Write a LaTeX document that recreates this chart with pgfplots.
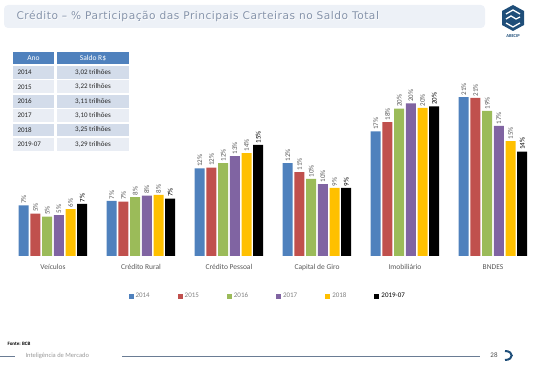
\documentclass[border=0pt]{standalone}
\usepackage{pgfplots}
\pgfplotsset{compat=1.18}
\usepackage{fontspec}
\setmainfont{Carlito}
\newfontfamily\titlefont[LetterSpace=5]{DejaVu Sans}
\definecolor{c14}{HTML}{4F81BD}
\definecolor{c15}{HTML}{C0504D}
\definecolor{c16}{HTML}{9BBB59}
\definecolor{c17}{HTML}{8064A2}
\definecolor{c18}{HTML}{FFC000}
\definecolor{c19}{HTML}{000000}
\definecolor{titlebg}{HTML}{EDF1F7}
\definecolor{titlefg}{HTML}{8593AA}
\definecolor{hdr}{HTML}{4F81BD}
\definecolor{rowa}{HTML}{D3DCEA}
\definecolor{rowb}{HTML}{E9EDF4}
\definecolor{logo}{HTML}{1F4E79}
\definecolor{lbl}{HTML}{595959}
\definecolor{foot}{HTML}{6A7C94}
\begin{document}
\begin{tikzpicture}
\useasboundingbox (0pt,0pt) rectangle (544pt,369pt);
% title bar
\fill[titlebg, rounded corners=4pt] (4pt,341pt) rectangle (485pt,364pt);
\node[anchor=west, text=white, font=\titlefont\fontsize{10.6}{12}\selectfont] at (13.6pt,351.9pt) {Crédito – \% Participação das Principais Carteiras no Saldo Total};
\node[anchor=west, text=titlefg, font=\titlefont\fontsize{10.6}{12}\selectfont] at (13pt,352.5pt) {Crédito – \% Participação das Principais Carteiras no Saldo Total};
% logo
\begin{scope}[shift={(513pt,351pt)}]
\fill[logo] (0pt,13pt) -- (11pt,7pt) -- (11pt,-7pt) -- (0pt,-13pt) -- (-11pt,-7pt) -- (-11pt,7pt) -- cycle;
\draw[white, line width=1.3pt] (-7pt,4pt) -- (0pt,8pt) -- (7pt,4pt);
\draw[white, line width=1.3pt] (-7pt,-1pt) -- (-2pt,2pt) -- (3pt,-1pt) -- (7pt,1pt);
\draw[white, line width=1.3pt] (-7pt,-5pt) -- (0pt,-9pt) -- (7pt,-5pt);
\node[text=logo, font=\fontsize{4.5}{5}\selectfont\bfseries] at (0pt,-18pt) {ABECIP};
\end{scope}
% table
\fill[hdr] (13pt,305pt) rectangle (54pt,317pt);
\fill[hdr] (57pt,305pt) rectangle (129pt,317pt);
\node[text=white, font=\fontsize{7.5}{9}\selectfont] at (33.5pt,311pt) {Ano};
\node[text=white, font=\fontsize{7.5}{9}\selectfont] at (93pt,311pt) {Saldo R\$};
\foreach \i/\yr/\val/\col in {0/2014/3{,}02/rowa,1/2015/3{,}22/rowb,2/2016/3{,}11/rowa,3/2017/3{,}10/rowb,4/2018/3{,}25/rowa,5/2019-07/3{,}29/rowb}{
  \pgfmathsetmacro{\ytop}{303-14.4*\i}
  \pgfmathsetmacro{\ybot}{\ytop-12.8}
  \pgfmathsetmacro{\ymid}{\ytop-6.4}
  \fill[\col] (13pt,\ybot pt) rectangle (54pt,\ytop pt);
  \fill[\col] (57pt,\ybot pt) rectangle (129pt,\ytop pt);
  \node[anchor=west, font=\fontsize{7}{8}\selectfont, text=black!85] at (14pt,\ymid pt) {\yr};
  \node[font=\fontsize{7}{8}\selectfont, text=black!85] at (93pt,\ymid pt) {\val\ trilhões};
}
% chart
\begin{axis}[
  at={(9pt,113pt)}, anchor=south west,
  scale only axis, width=528pt, height=189pt,
  xmin=-0.5, xmax=5.5, ymin=0, ymax=25,
  clip=false,
  axis line style={draw=none},
  major tick length=0pt,
  ytick=\empty,
  xtick={0,1,2,3,4,5},
  xticklabels={Veículos,Crédito Rural,Crédito Pessoal,Capital de Giro,Imobiliário,BNDES},
  xticklabel style={text=lbl, font=\fontsize{7.5}{9}\selectfont, yshift=-5pt},
  ybar=1.7pt, bar width=10pt,
  point meta=explicit symbolic,
  nodes near coords={\pgfplotspointmeta\%},
  nodes near coords style={rotate=90, anchor=west, inner sep=1.5pt, font=\fontsize{7}{8}\selectfont, text=lbl},
  legend columns=6,
  legend style={at={(0.49,-0.212)}, anchor=center, draw=none, fill=none, font=\fontsize{7}{8}\selectfont, text=gray, /tikz/every even column/.append style={column sep=26pt}},
  legend image code/.code={\fill[#1] (0pt,-2.5pt) rectangle (5pt,2.5pt);},
]
\addplot[fill=c14, draw=none] table[x=x, y=y, meta=l] {
x y l
0 6.7 7
1 7.3 7
2 11.6 12
3 12.3 12
4 16.5 17
5 21.0 21
};
\addplot[fill=c15, draw=none] table[x=x, y=y, meta=l] {
x y l
0 5.6 5
1 7.2 7
2 11.7 12
3 11.1 11
4 17.7 18
5 20.9 21
};
\addplot[fill=c16, draw=none] table[x=x, y=y, meta=l] {
x y l
0 5.2 5
1 7.8 8
2 12.3 12
3 10.2 10
4 19.5 20
5 19.2 19
};
\addplot[fill=c17, draw=none] table[x=x, y=y, meta=l] {
x y l
0 5.4 5
1 8.0 8
2 13.2 13
3 9.5 10
4 20.2 20
5 17.2 17
};
\addplot[fill=c18, draw=none] table[x=x, y=y, meta=l] {
x y l
0 6.2 6
1 8.1 8
2 13.6 14
3 9.0 9
4 19.6 20
5 15.2 15
};
\addplot[fill=c19, draw=none, nodes near coords style={text=black}] table[x=x, y=y, meta=l] {
x y l
0 6.9 7
1 7.6 7
2 14.7 15
3 9.0 9
4 19.8 20
5 13.8 14
};
\legend{2014,2015,2016,2017,2018,\textcolor{black}{2019-07}}
\end{axis}
% footer
\node[anchor=west, font=\fontsize{5}{6}\selectfont\bfseries, text=black] at (4pt,25pt) {Fonte: BCB};
\draw[foot, line width=0.6pt] (0pt,13pt) -- (15pt,13pt);
\node[anchor=west, font=\fontsize{6.5}{8}\selectfont, text=gray!80] at (22pt,13pt) {Inteligência de Mercado};
\draw[foot, line width=0.6pt] (122pt,13pt) -- (480pt,13pt);
\node[font=\fontsize{7}{8}\selectfont, text=black!70] at (494pt,13.5pt) {28};
\draw[logo, line width=2pt] (505pt,18pt) .. controls (514pt,18pt) and (514pt,9pt) .. (505pt,9pt);
\end{tikzpicture}
\end{document}
